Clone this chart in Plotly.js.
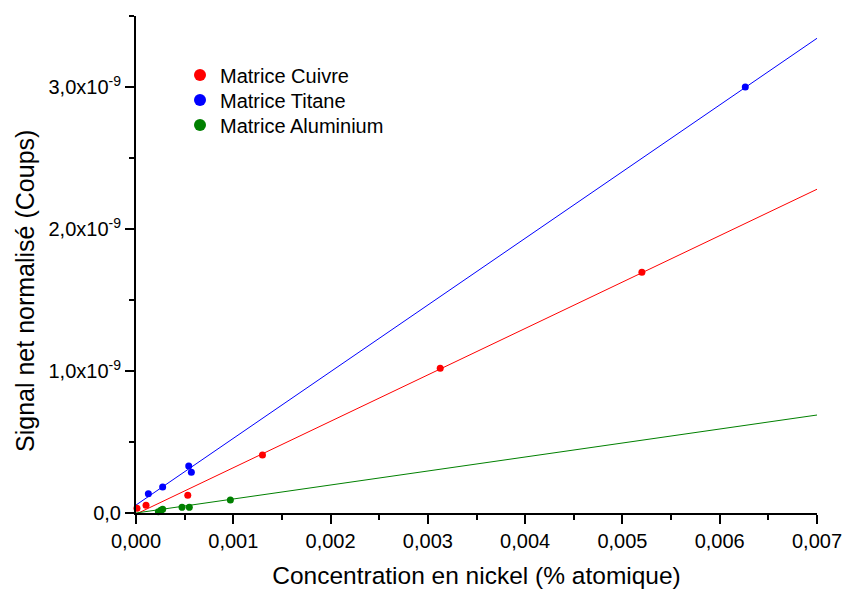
<!DOCTYPE html>
<html>
<head>
<meta charset="utf-8">
<script src="https://cdn.plot.ly/plotly-3.0.1.min.js"></script>
<style>html,body{margin:0;padding:0;background:#fff;}#chart{width:842px;height:590px;}</style>
</head>
<body>
<div id="chart"></div>
<script>
// Data (x: atomic %, y: normalised net signal)
const cuivreX = [0.00001, 0.000103, 0.000532, 0.0013, 0.003127, 0.0052];
const cuivreY = [0.033e-9, 0.054e-9, 0.125e-9, 0.408e-9, 1.019e-9, 1.695e-9];
const titaneX = [0.000127, 0.000274, 0.000542, 0.000569, 0.006263];
const titaneY = [0.136e-9, 0.183e-9, 0.331e-9, 0.287e-9, 3.0e-9];
const aluX = [0.00023, 0.000257, 0.000274, 0.000473, 0.000548, 0.00097];
const aluY = [0.009e-9, 0.019e-9, 0.026e-9, 0.04e-9, 0.04e-9, 0.092e-9];
// Fit lines (endpoints)
const fitX = [0, 0.007];
const cuivreFit = [-0.008e-9, 2.28e-9];
const titaneFit = [0.056e-9, 3.343e-9];
const aluFit = [0.0, 0.69e-9];
// Tick labels
const yTickVals = [0, 1e-9, 2e-9, 3e-9];
const yTickText = ['0,0', '1,0x10<sup>-9</sup>', '2,0x10<sup>-9</sup>', '3,0x10<sup>-9</sup>'];
const xTickVals = [0, 0.001, 0.002, 0.003, 0.004, 0.005, 0.006, 0.007];
const xTickText = ['0,000', '0,001', '0,002', '0,003', '0,004', '0,005', '0,006', '0,007'];

const RED = '#ff0000', BLUE = '#0000ff', GREEN = '#008000';

const traces = [
  {x: fitX, y: cuivreFit, mode: 'lines', line: {color: RED, width: 1}, showlegend: false, hoverinfo: 'skip'},
  {x: fitX, y: titaneFit, mode: 'lines', line: {color: BLUE, width: 1}, showlegend: false, hoverinfo: 'skip'},
  {x: fitX, y: aluFit, mode: 'lines', line: {color: GREEN, width: 1}, showlegend: false, hoverinfo: 'skip'},
  {x: cuivreX, y: cuivreY, mode: 'markers', name: 'Matrice Cuivre', legend: 'legend', marker: {color: RED, size: 7}, cliponaxis: false},
  {x: titaneX, y: titaneY, mode: 'markers', name: 'Matrice Titane', legend: 'legend2', marker: {color: BLUE, size: 7}, cliponaxis: false},
  {x: aluX, y: aluY, mode: 'markers', name: 'Matrice Aluminium', legend: 'legend3', marker: {color: GREEN, size: 7}, cliponaxis: false}
];

const font = {family: 'Liberation Sans, Arial, sans-serif', color: '#000'};

function leg(yc) {
  return {x: 0.0646, y: yc, xanchor: 'left', yanchor: 'middle', bgcolor: 'rgba(0,0,0,0)',
          font: Object.assign({size: 20}, font), itemsizing: 'constant', borderwidth: 0};
}

const layout = {
  width: 842, height: 590,
  margin: {l: 136, r: 25, t: 16, b: 77, pad: 0},
  paper_bgcolor: '#fff', plot_bgcolor: '#fff',
  font: Object.assign({size: 20}, font),
  showlegend: true,
  legend: leg(0.8813),
  legend2: leg(0.831),
  legend3: leg(0.7807),
  xaxis: {
    range: [0, 0.007], showgrid: false, zeroline: false,
    showline: true, linecolor: '#000', linewidth: 2,
    ticks: 'outside', ticklen: 9, tickwidth: 2, tickcolor: '#000',
    tickvals: xTickVals, ticktext: xTickText, ticklabeloverflow: 'allow',
    tickfont: Object.assign({size: 20}, font),
    minor: {ticks: 'outside', ticklen: 5, tickwidth: 2, tickcolor: '#000', dtick: 0.0005, tick0: 0, showgrid: false},
    title: {text: 'Concentration en nickel (% atomique)', font: Object.assign({size: 24.5}, font), standoff: 16}
  },
  yaxis: {
    range: [0, 3.5e-9], showgrid: false, zeroline: false,
    showline: true, linecolor: '#000', linewidth: 2,
    ticks: 'outside', ticklen: 9, tickwidth: 2, tickcolor: '#000',
    tickvals: yTickVals, ticktext: yTickText,
    tickfont: Object.assign({size: 20}, font),
    minor: {ticks: 'outside', ticklen: 5, tickwidth: 2, tickcolor: '#000', dtick: 0.5e-9, tick0: 0, showgrid: false}
  },
  annotations: [{
    text: 'Signal net normalisé (Coups)', textangle: -90,
    xref: 'paper', yref: 'paper', x: -0.163, y: 0.4467,
    xanchor: 'center', yanchor: 'middle', showarrow: false,
    font: Object.assign({size: 25}, font)
  }]
};

Plotly.newPlot('chart', traces, layout, {displayModeBar: false, staticPlot: true});
</script>
</body>
</html>
